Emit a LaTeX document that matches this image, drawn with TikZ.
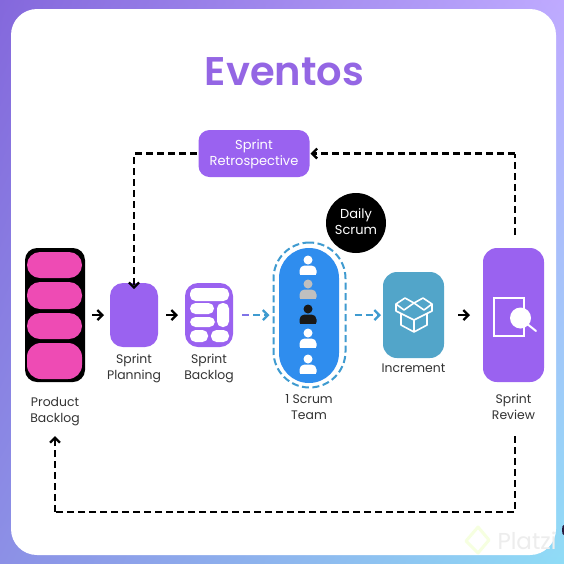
\documentclass[tikz,border=0pt]{standalone}
\usepackage{fontspec}
\setmainfont{Poppins}
\newfontfamily\titlefont{Poppins SemiBold}
\usetikzlibrary{arrows.meta,shadings}
\definecolor{purp}{HTML}{9A62F0}
\definecolor{titlepurp}{HTML}{9466E4}
\definecolor{pinkb}{HTML}{EE4BB4}
\definecolor{teamblue}{HTML}{2F8DEE}
\definecolor{ringblue}{HTML}{3F9BD0}
\definecolor{incblue}{HTML}{52A5C9}
\definecolor{labelgrey}{HTML}{333333}
\definecolor{bgul}{HTML}{8468DC}
\definecolor{bgur}{HTML}{BFAAFF}
\definecolor{bgll}{HTML}{8C90E6}
\definecolor{bglr}{HTML}{8FDCF6}
\tikzset{
  x=1pt,y=-1pt,
  card/.style={rectangle,inner sep=0pt,outer sep=0pt},
  lbl/.style={align=center,font=\fontsize{12.4}{16}\selectfont,text=labelgrey,inner sep=0pt},
  onbox/.style={align=center,font=\fontsize{13}{16}\selectfont,text=white,inner sep=0pt},
  dashedconn/.style={line width=2.3pt,dash pattern=on 7pt off 4pt,-{Straight Barb[length=5pt,width=10pt,line width=2.3pt]}},
  dashedplain/.style={line width=2.3pt,dash pattern=on 7pt off 4pt},
  solidconn/.style={line width=2.3pt,-{Straight Barb[length=5pt,width=10pt,line width=2.3pt]}},
  blueconn/.style={line width=2.3pt,dash pattern=on 7pt off 4pt,ringblue,-{Straight Barb[length=5pt,width=10pt,line width=2.3pt]}},
  slot/.style={white,rounded corners=5.5pt},
}
\newcommand{\teammate}[3][white]{%
  \fill[#1] (#2,#3) circle (4.5);
  \fill[#1,rounded corners=5pt] (#2-8.5,#3+18) -- (#2-8.5,#3+5.5) -- (#2+8.5,#3+5.5) -- (#2+8.5,#3+18) -- cycle;
  \fill[teamblue] (#2-9.5,#3+14.5) rectangle (#2+9.5,#3+19);
}
\begin{document}
\begin{tikzpicture}
\useasboundingbox (0,0) rectangle (564,563);
\shade[upper left=bgul,upper right=bgur,lower left=bgll,lower right=bglr] (0,0) rectangle (564,563);
\fill[white,rounded corners=26pt] (11,9) rectangle (556,555);
\fill[black!75!purp] (563.5,530) ellipse (1.5 and 5);

\node[inner sep=0pt,font=\fontsize{40}{48}\selectfont\titlefont,text=titlepurp] (title) at (284.5,71.5) {Eventos};

\node[card,fill=black,rounded corners=12pt,minimum width=60pt,minimum height=134pt] (pb) at (55,315) {};
\fill[pinkb,rounded corners=13pt] (27,252) rectangle (82,278);
\fill[pinkb,rounded corners=13pt] (27,282) rectangle (82,309);
\fill[pinkb,rounded corners=13pt] (27,313) rectangle (82,339);
\fill[pinkb,rounded corners=14pt] (27,343) rectangle (82,379);
\node[lbl] (pbl) at (55,412) {Product\\Backlog};

\node[card,fill=purp,rounded corners=13pt,minimum width=48pt,minimum height=64pt] (plan) at (134,315) {};
\node[lbl] (planl) at (134,368) {Sprint\\Planning};

\node[card,fill=purp,rounded corners=13pt,minimum width=48pt,minimum height=64pt] (sb) at (209,315) {};
\fill[slot] (190,288) rectangle (229,301);
\fill[slot] (190,303) rectangle (214,314);
\fill[slot] (190,317) rectangle (215,327);
\fill[slot] (190,330) rectangle (208,342);
\fill[slot] (211,330) rectangle (229,342);
\fill[slot] (217,303) rectangle (229,327);
\node[lbl] (sbl) at (209,368) {Sprint\\Backlog};

\node[card,fill=purp,rounded corners=11pt,minimum width=111pt,minimum height=47pt] (retro) at (254,153.5) {};
\node[onbox] (retrol) at (254,154) {Sprint\\Retrospective};

\node[card,draw=ringblue,line width=2pt,dash pattern=on 7pt off 3.5pt,rounded corners=36pt,minimum width=72pt,minimum height=145pt] (ring) at (309.5,315) {};
\node[card,fill=teamblue,rounded corners=30pt,minimum width=60pt,minimum height=135pt] (team) at (309,315.5) {};
\teammate{308}{260}
\teammate[lightgray]{308}{284}
\teammate[black!90]{308}{309}
\teammate{308}{333}
\teammate{308}{359}
\node[lbl] (teaml) at (309,407) {1 Scrum\\Team};

\node[circle,fill=black,inner sep=0pt,minimum size=60pt] (daily) at (356,223) {};
\node[onbox] (dailyl) at (356,222) {Daily\\Scrum};

\node[card,fill=incblue,rounded corners=14pt,minimum width=61pt,minimum height=86pt] (inc) at (413.5,315) {};
\begin{scope}[white,line width=1.6pt,line join=round]
\draw (401,313) -- (401,325) -- (414,332) -- (427,325) -- (427,313);
\draw (414,320) -- (414,332);
\draw (396,304) -- (405,298) -- (414,303) -- (404,310) -- cycle;
\draw (414,303) -- (423,298) -- (432,304) -- (424,310) -- cycle;
\draw (396,304) -- (396,311) -- (414,320) -- (432,311) -- (432,304);
\end{scope}
\node[lbl] (incl) at (413.5,368) {Increment};

\node[card,fill=purp,rounded corners=14pt,minimum width=61pt,minimum height=134pt] (rev) at (513.5,315) {};
\draw[white,line width=1.7pt] (494,298) rectangle (524,336);
\draw[purp,line width=3pt] (524,309) -- (524,327);
\draw[white,line width=2pt,line cap=round] (526,323) -- (536,331);
\fill[white] (520.5,318) circle (10.5);
\node[lbl] (revl) at (513.5,407) {Sprint\\Review};

\node[inner sep=0pt,font=\fontsize{23}{23}\selectfont,text=black!7] (wm) at (527,541) {Platzi};
\draw[green!30!yellow!12,line width=3pt,line join=round] (478,527) -- (466,541) -- (478,553) -- (489,540) -- cycle;

\coordinate (revtop) at (515,235);
\coordinate (revbot) at (515,436);
\coordinate (corner1) at (515,153.5);
\coordinate (corner2) at (515,512);
\coordinate (corner3) at (55,512);
\coordinate (pbin) at (55,436);

\draw[dashedplain] (revtop) -- (corner1);
\draw[dashedconn] (corner1) -- ([xshift=1pt]retro.east);
\draw[dashedconn] ([xshift=-2pt]retro.west) -| ([yshift=-6pt]plan.north);
\draw[dashedplain] (revbot) -- (corner2) -- (corner3);
\draw[dashedconn] (corner3) -- (pbin);

\draw[solidconn] ([xshift=7pt]pb.east |- plan.west) -- ([xshift=-6pt]plan.west);
\draw[solidconn] ([xshift=8pt]plan.east) -- ([xshift=-7pt]sb.west);
\draw[blueconn] ([xshift=9pt]sb.east) -- ([xshift=-4pt]ring.west);
\draw[purp!70!ringblue,line width=2.3pt] ([xshift=9pt]sb.east) -- ([xshift=16pt]sb.east);
\draw[blueconn] ([xshift=9pt]ring.east) -- ([xshift=-2pt]inc.west);
\draw[solidconn] ([xshift=14pt]inc.east) -- ([xshift=-13pt]rev.west);
\end{tikzpicture}
\end{document}
